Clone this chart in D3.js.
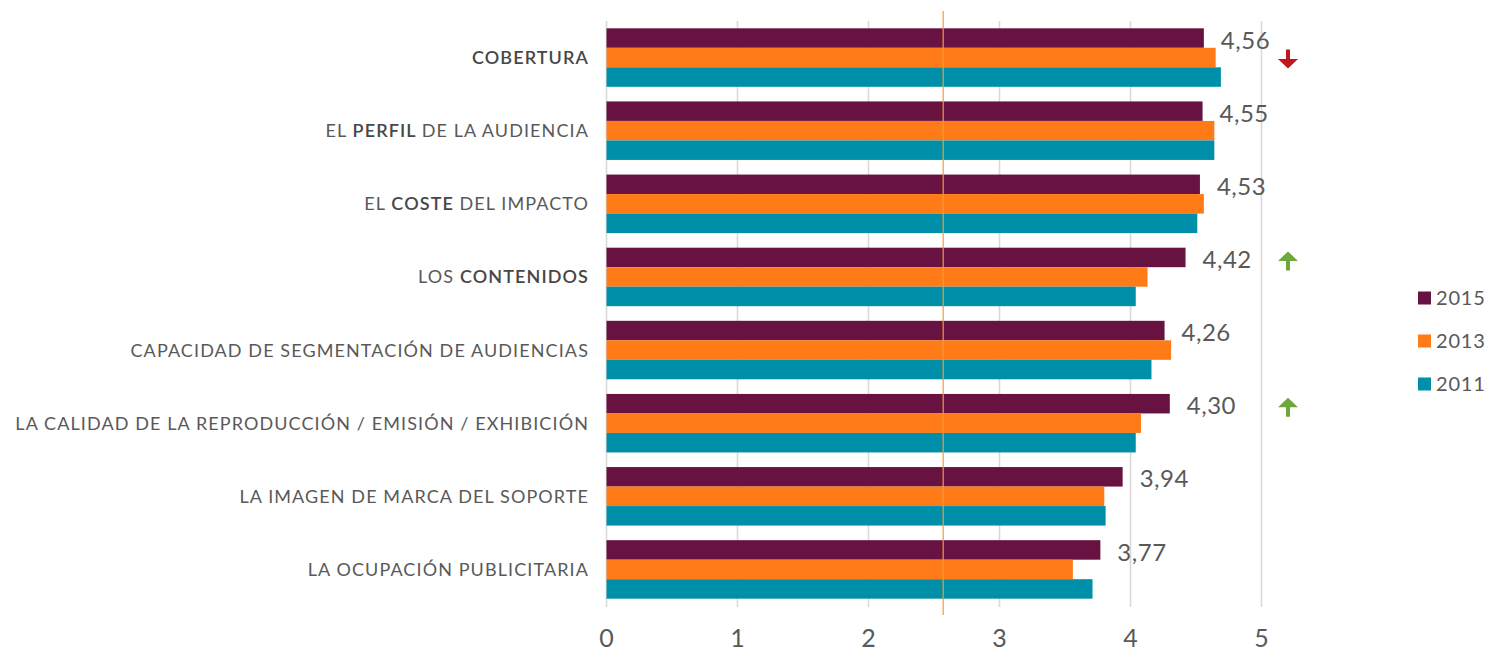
<!DOCTYPE html>
<html>
<head>
<meta charset="utf-8">
<script src="https://cdn.jsdelivr.net/npm/d3@7"></script>
<style>
  html, body { margin: 0; padding: 0; background: #fff; }
  svg { display: block; font-family: Lato, "Open Sans", sans-serif; }
</style>
</head>
<body>
<svg id="chart" width="1487" height="651"></svg>
<script>
// categories top to bottom
const categories = [
    "COBERTURA",
    "EL PERFIL DE LA AUDIENCIA",
    "EL COSTE DEL IMPACTO",
    "LOS CONTENIDOS",
    "CAPACIDAD DE SEGMENTACIÓN DE AUDIENCIAS",
    "LA CALIDAD DE LA REPRODUCCIÓN / EMISIÓN / EXHIBICIÓN",
    "LA IMAGEN DE MARCA DEL SOPORTE",
    "LA OCUPACIÓN PUBLICITARIA"
];
const boldWords = ["COBERTURA", "PERFIL", "COSTE", "CONTENIDOS"];

const years = ["2015", "2013", "2011"];
const values2015 = [4.56, 4.55, 4.53, 4.42, 4.26, 4.30, 3.94, 3.77];
const values2013 = [4.65, 4.64, 4.56, 4.13, 4.31, 4.08, 3.80, 3.56];
const values2011 = [4.69, 4.64, 4.51, 4.04, 4.16, 4.04, 3.81, 3.71];

// trend arrows next to the 2015 labels
const trendCategories = ["COBERTURA", "LOS CONTENIDOS", "LA CALIDAD DE LA REPRODUCCIÓN / EMISIÓN / EXHIBICIÓN"];
const trendDirections = ["down", "up", "up"];

const xTicks = [0, 1, 2, 3, 4, 5];
const referenceValue = 2.57;

const colors = { "2015": "#681242", "2013": "#ff7b17", "2011": "#008fa9" };
const textColor = "#595959";

const seriesValues = { "2015": values2015, "2013": values2013, "2011": values2011 };

const svg = d3.select("#chart");
const margin = { left: 606.5, right: 225.5, top: 21, bottom: 45 };
const width = 1487, height = 651;

const x = d3.scaleLinear().domain([0, 5]).range([margin.left, width - margin.right]);
const y = d3.scaleBand().domain(categories)
    .range([margin.top, height - margin.bottom])
    .paddingInner(0.2).paddingOuter(0.1);
const ySub = d3.scaleBand().domain(years).range([0, y.bandwidth()]);

const fmt = v => d3.format(".2f")(v).replace(".", ",");

// gridlines
svg.append("g")
    .selectAll("line")
    .data(xTicks)
    .join("line")
    .attr("x1", d => x(d)).attr("x2", d => x(d))
    .attr("y1", margin.top).attr("y2", height - margin.bottom + 1)
    .attr("stroke", "#d9d9d9")
    .attr("stroke-width", 1.6);

// tick labels
svg.append("g")
    .selectAll("text")
    .data(xTicks)
    .join("text")
    .attr("x", d => x(d))
    .attr("y", 647)
    .attr("text-anchor", "middle")
    .attr("font-size", 25)
    .attr("fill", textColor)
    .text(d => d);

// bars
const rows = categories.map((c, i) => ({ cat: c, i }));
const group = svg.append("g")
    .selectAll("g")
    .data(rows)
    .join("g")
    .attr("transform", d => `translate(0,${y(d.cat)})`);

group.selectAll("rect")
    .data(d => years.map(yr => ({ yr, v: seriesValues[yr][d.i] })))
    .join("rect")
    .attr("x", x(0))
    .attr("y", d => ySub(d.yr))
    .attr("width", d => x(d.v) - x(0))
    .attr("height", ySub.bandwidth())
    .attr("fill", d => colors[d.yr]);

// value labels (2015)
group.append("text")
    .attr("x", d => x(values2015[d.i]) + 17)
    .attr("y", ySub("2015") + ySub.bandwidth() / 2 + 2)
    .attr("dy", "0.36em")
    .attr("font-size", 24)
    .attr("letter-spacing", 0.5)
    .attr("fill", textColor)
    .text(d => fmt(values2015[d.i]));

// reference line
svg.append("line")
    .attr("x1", x(referenceValue)).attr("x2", x(referenceValue))
    .attr("y1", 11).attr("y2", 615)
    .attr("stroke", "#f29b3c")
    .attr("stroke-width", 1.2);

// category labels
const labels = svg.append("g")
    .selectAll("text")
    .data(categories)
    .join("text")
    .attr("x", x(0) - 17.5)
    .attr("y", d => y(d) + y.bandwidth() / 2)
    .attr("dy", "0.36em")
    .attr("text-anchor", "end")
    .attr("font-size", 18)
    .attr("letter-spacing", 1.1)
    .attr("fill", textColor);

labels.each(function (d) {
    const t = d3.select(this);
    d.split(" ").forEach((w, k, arr) => {
        const b = boldWords.includes(w);
        t.append("tspan")
            .attr("font-weight", b ? 600 : 400)
            .attr("fill", b ? "#474747" : textColor)
            .text(w + (k < arr.length - 1 ? " " : ""));
    });
});

// trend arrows
const arrowX = 1288;
trendCategories.forEach((c, k) => {
    const dir = trendDirections[k];
    const cy = y(c) + y.bandwidth() / 2 + (dir === "down" ? 1.5 : -16);
    const s = dir === "down" ? 1 : -1;
    const col = dir === "down" ? "#c0161c" : "#6fa83a";
    // shaft + head, drawn pointing down then flipped
    const p = d3.path();
    p.moveTo(-2, -9.5); p.lineTo(2, -9.5); p.lineTo(2, 0); p.lineTo(10, 0);
    p.lineTo(0, 9.5); p.lineTo(-10, 0); p.lineTo(-2, 0); p.closePath();
    svg.append("path")
        .attr("d", p.toString())
        .attr("transform", `translate(${arrowX},${cy}) scale(1,${s})`)
        .attr("fill", col);
});

// legend
const legend = svg.append("g")
    .selectAll("g")
    .data(years)
    .join("g")
    .attr("transform", (d, i) => `translate(1418,${298 + i * 43})`);

legend.append("rect")
    .attr("x", 0).attr("y", -6.5)
    .attr("width", 13).attr("height", 13)
    .attr("fill", d => colors[d]);

legend.append("text")
    .attr("x", 18)
    .attr("dy", "0.36em")
    .attr("font-size", 20)
    .attr("letter-spacing", 0.8)
    .attr("fill", textColor)
    .text(d => d);
</script>
</body>
</html>
